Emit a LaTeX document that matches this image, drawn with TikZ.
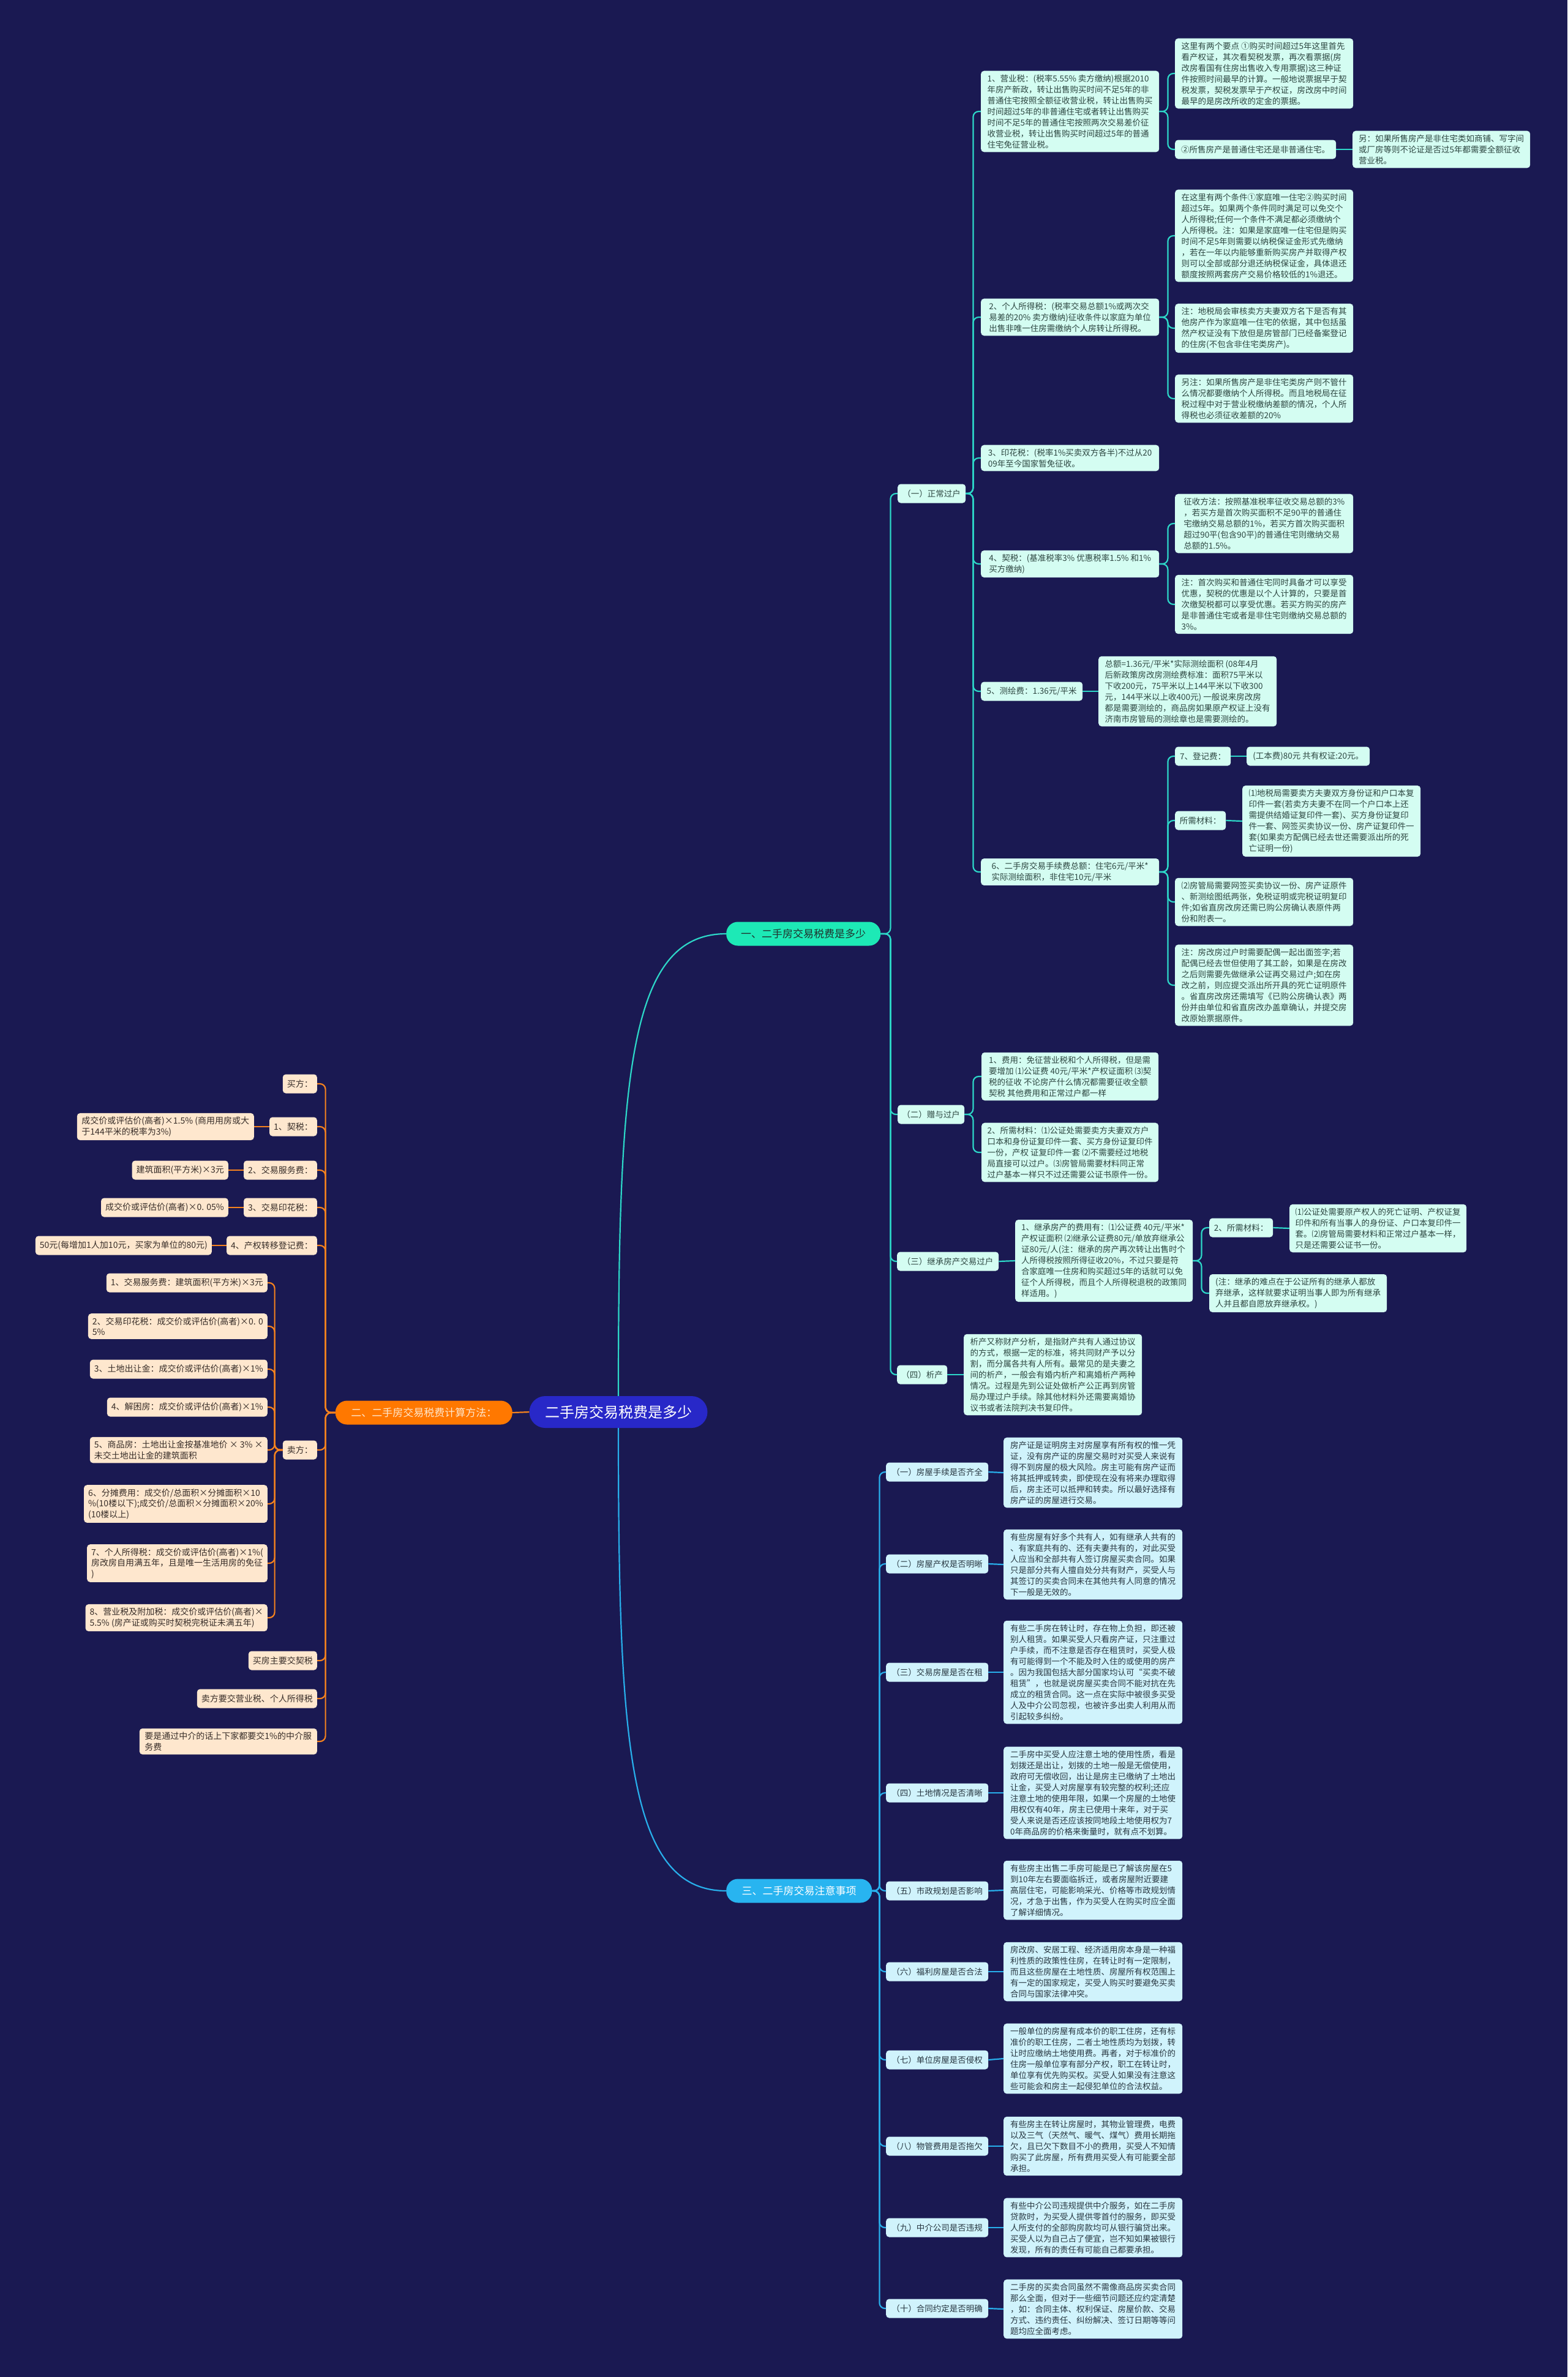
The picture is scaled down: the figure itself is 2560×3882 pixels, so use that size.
\documentclass[tikz,border=0pt]{standalone}
\usepackage{fontspec}
\newfontfamily\cjk{Noto Sans CJK SC}
\definecolor{navy}{RGB}{26,25,82}
\definecolor{rootblue}{RGB}{40,40,200}
\definecolor{tealmain}{RGB}{29,233,182}
\definecolor{tealline}{RGB}{45,215,200}
\definecolor{mintfill}{RGB}{212,253,242}
\definecolor{minttext}{RGB}{45,70,65}
\definecolor{orangemain}{RGB}{255,120,0}
\definecolor{orangeline}{RGB}{245,130,30}
\definecolor{peachfill}{RGB}{254,231,206}
\definecolor{peachtext}{RGB}{55,45,40}
\definecolor{bluemain}{RGB}{40,180,240}
\definecolor{blueline}{RGB}{40,175,235}
\definecolor{skyfill}{RGB}{208,243,252}
\definecolor{skytext}{RGB}{40,55,65}
\tikzset{rootnode/.style={fill=rootblue,text=white,rounded corners=26pt,minimum height=52pt,
    minimum width=291pt,font=\cjk\fontsize{24}{28}\selectfont},
  mainnode/.style={rounded corners=19pt,minimum height=39pt,font=\cjk\fontsize{17}{20}\selectfont},
  mintbox/.style={fill=mintfill,text=minttext,rounded corners=5pt,align=left,inner xsep=6pt,
    inner ysep=6pt,minimum height=31pt,font=\cjk\fontsize{13.5}{18}\selectfont},
  peachbox/.style={fill=peachfill,text=peachtext,rounded corners=5pt,align=left,inner xsep=7pt,
    inner ysep=6pt,minimum height=31pt,font=\cjk\fontsize{14}{17.5}\selectfont},
  skybox/.style={fill=skyfill,text=skytext,rounded corners=5pt,align=left,inner xsep=6pt,
    inner ysep=6pt,minimum height=31pt,font=\cjk\fontsize{13.5}{18}\selectfont},
  tealedge/.style={draw=tealline,line width=2.2pt,rounded corners=9pt},
  orangeedge/.style={draw=orangeline,line width=2.2pt,rounded corners=9pt},
  blueedge/.style={draw=blueline,line width=2.2pt,rounded corners=9pt}}
\begin{document}
\begin{tikzpicture}[x=1pt,y=-1pt]
\useasboundingbox (0,0) rectangle (2560,3882);
\fill[navy] (0,0) rectangle (2560,3882);

\node[rootnode] (root) at (1010,2306) {二手房交易税费是多少};

% 一、税费
\node[mainnode,fill=tealmain,text=minttext!70!black,minimum width=252pt,anchor=west] (sec1) at (1186,1525) {一、二手房交易税费是多少};
\node[mintbox,anchor=west,minimum width=111pt] (zc) at (1466,806) {（一）正常过户};
\node[mintbox,anchor=west,minimum width=291pt] (yys) at (1602,182) {1、营业税：(税率5.55\% 卖方缴纳)根据2010\\年房产新政，转让出售购买时间不足5年的非\\普通住宅按照全额征收营业税，转让出售购买\\时间超过5年的非普通住宅或者转让出售购买\\时间不足5年的普通住宅按照两次交易差价征\\收营业税，转让出售购买时间超过5年的普通\\住宅免征营业税。};
\node[mintbox,anchor=west,minimum width=291pt] (yysa) at (1919,120) {这里有两个要点 ①购买时间超过5年这里首先\\看产权证，其次看契税发票，再次看票据(房\\改房看国有住房出售收入专用票据)这三种证\\件按照时间最早的计算。一般地说票据早于契\\税发票，契税发票早于产权证，房改房中时间\\最早的是房改所收的定金的票据。};
\node[mintbox,anchor=west,minimum width=263pt] (yysb) at (1919,244) {②所售房产是普通住宅还是非普通住宅。};
\node[mintbox,anchor=west,minimum width=290pt] (yysc) at (2209,244) {另：如果所售房产是非住宅类如商铺、写字间\\或厂房等则不论证是否过5年都需要全额征收\\营业税。};
\node[mintbox,anchor=west,minimum width=291pt] (gs) at (1602,518) {2、个人所得税：(税率交易总额1\%或两次交\\易差的20\% 卖方缴纳)征收条件以家庭为单位\\出售非唯一住房需缴纳个人房转让所得税。};
\node[mintbox,anchor=west,minimum width=291pt] (gsa) at (1919,385) {在这里有两个条件①家庭唯一住宅②购买时间\\超过5年。如果两个条件同时满足可以免交个\\人所得税;任何一个条件不满足都必须缴纳个\\人所得税。注：如果是家庭唯一住宅但是购买\\时间不足5年则需要以纳税保证金形式先缴纳\\，若在一年以内能够重新购买房产并取得产权\\则可以全部或部分退还纳税保证金，具体退还\\额度按照两套房产交易价格较低的1\%退还。};
\node[mintbox,anchor=west,minimum width=291pt] (gsb) at (1919,536) {注：地税局会审核卖方夫妻双方名下是否有其\\他房产作为家庭唯一住宅的依据，其中包括虽\\然产权证没有下放但是房管部门已经备案登记\\的住房(不包含非住宅类房产)。};
\node[mintbox,anchor=west,minimum width=291pt] (gsc) at (1919,651) {另注：如果所售房产是非住宅类房产则不管什\\么情况都要缴纳个人所得税。而且地税局在征\\税过程中对于营业税缴纳差额的情况，个人所\\得税也必须征收差额的20\%};
\node[mintbox,anchor=west,minimum width=291pt] (yhs) at (1602,748) {3、印花税：(税率1\%买卖双方各半)不过从20\\09年至今国家暂免征收。};
\node[mintbox,anchor=west,minimum width=291pt] (qs) at (1602,921) {4、契税：(基准税率3\% 优惠税率1.5\% 和1\%\\ 买方缴纳)};
\node[mintbox,anchor=west,minimum width=291pt] (qsa) at (1919,855) {征收方法：按照基准税率征收交易总额的3\%\\，若买方是首次购买面积不足90平的普通住\\宅缴纳交易总额的1\%，若买方首次购买面积\\超过90平(包含90平)的普通住宅则缴纳交易\\总额的1.5\%。};
\node[mintbox,anchor=west,minimum width=291pt] (qsb) at (1919,987) {注：首次购买和普通住宅同时具备才可以享受\\优惠，契税的优惠是以个人计算的，只要是首\\次缴契税都可以享受优惠。若买方购买的房产\\是非普通住宅或者是非住宅则缴纳交易总额的\\3\%。};
\node[mintbox,anchor=west,minimum width=166pt] (ch) at (1602,1129) {5、测绘费：1.36元/平米};
\node[mintbox,anchor=west,minimum width=291pt] (cha) at (1794,1129) {总额=1.36元/平米*实际测绘面积 (08年4月\\后新政策房改房测绘费标准：面积75平米以\\下收200元，75平米以上144平米以下收300\\元，144平米以上收400元) 一般说来房改房\\都是需要测绘的，商品房如果原产权证上没有\\济南市房管局的测绘章也是需要测绘的。};
\node[mintbox,anchor=west,minimum width=291pt] (sx) at (1602,1424) {6、二手房交易手续费总额：住宅6元/平米*\\实际测绘面积，非住宅10元/平米};
\node[mintbox,anchor=west,minimum width=91pt] (djf) at (1919,1235) {7、登记费：};
\node[mintbox,anchor=west,minimum width=201pt] (djfa) at (2036,1235) {(工本费)80元 共有权证:20元。};
\node[mintbox,anchor=west,minimum width=83pt] (cl) at (1919,1340) {所需材料：};
\node[mintbox,anchor=west,minimum width=291pt] (cla) at (2029,1341) {⑴地税局需要卖方夫妻双方身份证和户口本复\\印件一套(若卖方夫妻不在同一个户口本上还\\需提供结婚证复印件一套)、买方身份证复印\\件一套、网签买卖协议一份、房产证复印件一\\套(如果卖方配偶已经去世还需要派出所的死\\亡证明一份)};
\node[mintbox,anchor=west,minimum width=291pt] (fgj) at (1919,1473) {⑵房管局需要网签买卖协议一份、房产证原件\\、新测绘图纸两张，免税证明或完税证明复印\\件;如省直房改房还需已购公房确认表原件两\\份和附表一。};
\node[mintbox,anchor=west,minimum width=291pt] (fgz) at (1919,1609) {注：房改房过户时需要配偶一起出面签字;若\\配偶已经去世但使用了其工龄，如果是在房改\\之后则需要先做继承公证再交易过户;如在房\\改之前，则应提交派出所开具的死亡证明原件\\。省直房改房还需填写《已购公房确认表》两\\份并由单位和省直房改办盖章确认，并提交房\\改原始票据原件。};
\node[mintbox,anchor=west,minimum width=109pt] (zy) at (1466,1820) {（二）赠与过户};
\node[mintbox,anchor=west,minimum width=289pt] (zya) at (1603,1758) {1、费用：免征营业税和个人所得税，但是需\\要增加 ⑴公证费 40元/平米*产权证面积 ⑶契\\税的征收 不论房产什么情况都需要征收全额\\契税 其他费用和正常过户都一样};
\node[mintbox,anchor=west,minimum width=289pt] (zyb) at (1603,1882) {2、所需材料：⑴公证处需要卖方夫妻双方户\\口本和身份证复印件一套、买方身份证复印件\\一份，产权 证复印件一套 ⑵不需要经过地税\\局直接可以过户。⑶房管局需要材料同正常\\过户基本一样只不过还需要公证书原件一份。};
\node[mintbox,anchor=west,minimum width=166pt] (jc) at (1465,2060) {（三）继承房产交易过户};
\node[mintbox,anchor=west,minimum width=290pt] (jca) at (1658,2059) {1、继承房产的费用有：⑴公证费 40元/平米*\\产权证面积 ⑵继承公证费80元/单放弃继承公\\证80元/人(注：继承的房产再次转让出售时个\\人所得税按照所得征收20\%，不过只要是符\\合家庭唯一住房和购买超过5年的话就可以免\\征个人所得税，而且个人所得税退税的政策同\\样适用。)};
\node[mintbox,anchor=west,minimum width=104pt] (jcb) at (1975,2005) {2、所需材料：};
\node[mintbox,anchor=west,minimum width=289pt] (jcc) at (2106,2006) {⑴公证处需要原产权人的死亡证明、产权证复\\印件和所有当事人的身份证、户口本复印件一\\套。⑵房管局需要材料和正常过户基本一样，\\只是还需要公证书一份。};
\node[mintbox,anchor=west,minimum width=290pt] (jcd) at (1975,2112) {(注：继承的难点在于公证所有的继承人都放\\弃继承，这样就要求证明当事人即为所有继承\\人并且都自愿放弃继承权。)};
\node[mintbox,anchor=west,minimum width=82pt] (xc) at (1465,2245) {（四）析产};
\node[mintbox,anchor=west,minimum width=291pt] (xca) at (1574,2245) {析产又称财产分析，是指财产共有人通过协议\\的方式，根据一定的标准，将共同财产予以分\\割，而分属各共有人所有。最常见的是夫妻之\\间的析产，一般会有婚内析产和离婚析产两种\\情况。过程是先到公证处做析产公正再到房管\\局办理过户手续。除其他材料外还需要离婚协\\议书或者法院判决书复印件。};

% 二、计算方法
\node[mainnode,fill=orangemain,text=peachfill,minimum width=289pt,anchor=east] (sec2) at (837,2307) {二、二手房交易税费计算方法：};
\node[peachbox,anchor=east,minimum width=55pt] (buyer) at (518,1770) {买方：};
\node[peachbox,anchor=east,minimum width=77pt] (bqs) at (518,1840) {1、契税：};
\node[peachbox,anchor=east,minimum width=289pt] (bqsv) at (415,1840) {成交价或评估价(高者)×1.5\% (商用用房或大\\于144平米的税率为3\%)};
\node[peachbox,anchor=east,minimum width=118pt] (bfw) at (518,1911) {2、交易服务费：};
\node[peachbox,anchor=east,minimum width=151pt] (bfwv) at (373,1911) {建筑面积(平方米)×3元};
\node[peachbox,anchor=east,minimum width=118pt] (byh) at (518,1972) {3、交易印花税：};
\node[peachbox,anchor=east,minimum width=200pt] (byhv) at (373,1972) {成交价或评估价(高者)×0. 05\%};
\node[peachbox,anchor=east,minimum width=146pt] (bcq) at (518,2034) {4、产权转移登记费：};
\node[peachbox,anchor=east,minimum width=287pt] (bcqv) at (346,2034) {50元(每增加1人加10元，买家为单位的80元)};
\node[peachbox,anchor=east,minimum width=55pt] (seller) at (518,2368) {卖方：};
\node[peachbox,anchor=east,minimum width=256pt] (s1) at (437,2095) {1、交易服务费：建筑面积(平方米)×3元};
\node[peachbox,anchor=east,minimum width=290pt] (s2) at (437,2166) {2、交易印花税：成交价或评估价(高者)×0. 0\\5\%};
\node[peachbox,anchor=east,minimum width=283pt] (s3) at (437,2236) {3、土地出让金：成交价或评估价(高者)×1\%};
\node[peachbox,anchor=east,minimum width=254pt] (s4) at (437,2298) {4、解困房：成交价或评估价(高者)×1\%};
\node[peachbox,anchor=east,minimum width=290pt] (s5) at (437,2368) {5、商品房：土地出让金按基准地价 × 3\% ×\\未交土地出让金的建筑面积};
\node[peachbox,anchor=east,minimum width=290pt] (s6) at (437,2456) {6、分摊费用：成交价/总面积×分摊面积×10\\\%(10楼以下);成交价/总面积×分摊面积×20\%\\(10楼以上)};
\node[peachbox,anchor=east,minimum width=290pt] (s7) at (437,2553) {7、个人所得税：成交价或评估价(高者)×1\%(\\房改房自用满五年，且是唯一生活用房的免征\\)};
\node[peachbox,anchor=east,minimum width=290pt] (s8) at (437,2642) {8、营业税及附加税：成交价或评估价(高者)×\\5.5\% (房产证或购买时契税完税证未满五年)};
\node[peachbox,anchor=east,minimum width=111pt] (m1) at (518,2712) {买房主要交契税};
\node[peachbox,anchor=east,minimum width=193pt] (m2) at (518,2774) {卖方要交营业税、个人所得税};
\node[peachbox,anchor=east,minimum width=290pt] (m3) at (518,2844) {要是通过中介的话上下家都要交1\%的中介服\\务费};

% 三、注意事项
\node[mainnode,fill=bluemain,text=white,minimum width=238pt,anchor=west] (sec3) at (1186,3088) {三、二手房交易注意事项};
\node[skybox,anchor=west,minimum width=167pt] (z1) at (1447,2404) {（一）房屋手续是否齐全};
\node[skybox,anchor=west,minimum width=292pt] (zt1) at (1639,2405) {房产证是证明房主对房屋享有所有权的惟一凭\\证，没有房产证的房屋交易时对买受人来说有\\得不到房屋的极大风险。房主可能有房产证而\\将其抵押或转卖，即使现在没有将来办理取得\\后，房主还可以抵押和转卖。所以最好选择有\\房产证的房屋进行交易。};
\node[skybox,anchor=west,minimum width=167pt] (z2) at (1447,2554) {（二）房屋产权是否明晰};
\node[skybox,anchor=west,minimum width=292pt] (zt2) at (1639,2555) {有些房屋有好多个共有人，如有继承人共有的\\、有家庭共有的、还有夫妻共有的，对此买受\\人应当和全部共有人签订房屋买卖合同。如果\\只是部分共有人擅自处分共有财产，买受人与\\其签订的买卖合同未在其他共有人同意的情况\\下一般是无效的。};
\node[skybox,anchor=west,minimum width=167pt] (z3) at (1447,2731) {（三）交易房屋是否在租};
\node[skybox,anchor=west,minimum width=292pt] (zt3) at (1639,2731) {有些二手房在转让时，存在物上负担，即还被\\别人租赁。如果买受人只看房产证，只注重过\\户手续，而不注意是否存在租赁时，买受人极\\有可能得到一个不能及时入住的或使用的房产\\。因为我国包括大部分国家均认可“买卖不破\\租赁”，也就是说房屋买卖合同不能对抗在先\\成立的租赁合同。这一点在实际中被很多买受\\人及中介公司忽视，也被许多出卖人利用从而\\引起较多纠纷。};
\node[skybox,anchor=west,minimum width=167pt] (z4) at (1447,2928) {（四）土地情况是否清晰};
\node[skybox,anchor=west,minimum width=292pt] (zt4) at (1639,2928) {二手房中买受人应注意土地的使用性质，看是\\划拨还是出让，划拨的土地一般是无偿使用，\\政府可无偿收回，出让是房主已缴纳了土地出\\让金，买受人对房屋享有较完整的权利;还应\\注意土地的使用年限，如果一个房屋的土地使\\用权仅有40年，房主已使用十来年，对于买\\受人来说是否还应该按同地段土地使用权为7\\0年商品房的价格来衡量时，就有点不划算。};
\node[skybox,anchor=west,minimum width=167pt] (z5) at (1447,3088) {（五）市政规划是否影响};
\node[skybox,anchor=west,minimum width=292pt] (zt5) at (1639,3087) {有些房主出售二手房可能是已了解该房屋在5\\到10年左右要面临拆迁，或者房屋附近要建\\高层住宅，可能影响采光、价格等市政规划情\\况，才急于出售，作为买受人在购买时应全面\\了解详细情况。};
\node[skybox,anchor=west,minimum width=167pt] (z6) at (1447,3220) {（六）福利房屋是否合法};
\node[skybox,anchor=west,minimum width=292pt] (zt6) at (1639,3220) {房改房、安居工程、经济适用房本身是一种福\\利性质的政策性住房，在转让时有一定限制，\\而且这些房屋在土地性质、房屋所有权范围上\\有一定的国家规定，买受人购买时要避免买卖\\合同与国家法律冲突。};
\node[skybox,anchor=west,minimum width=167pt] (z7) at (1447,3364) {（七）单位房屋是否侵权};
\node[skybox,anchor=west,minimum width=292pt] (zt7) at (1639,3362) {一般单位的房屋有成本价的职工住房，还有标\\准价的职工住房，二者土地性质均为划拨，转\\让时应缴纳土地使用费。再者，对于标准价的\\住房一般单位享有部分产权，职工在转让时，\\单位享有优先购买权。买受人如果没有注意这\\些可能会和房主一起侵犯单位的合法权益。};
\node[skybox,anchor=west,minimum width=167pt] (z8) at (1447,3505) {（八）物管费用是否拖欠};
\node[skybox,anchor=west,minimum width=292pt] (zt8) at (1639,3505) {有些房主在转让房屋时，其物业管理费，电费\\以及三气（天然气、暖气、煤气）费用长期拖\\欠，且已欠下数目不小的费用，买受人不知情\\购买了此房屋，所有费用买受人有可能要全部\\承担。};
\node[skybox,anchor=west,minimum width=167pt] (z9) at (1447,3638) {（九）中介公司是否违规};
\node[skybox,anchor=west,minimum width=292pt] (zt9) at (1639,3638) {有些中介公司违规提供中介服务，如在二手房\\贷款时，为买受人提供零首付的服务，即买受\\人所支付的全部购房款均可从银行骗贷出来。\\买受人以为自己占了便宜，岂不知如果被银行\\发现，所有的责任有可能自己都要承担。};
\node[skybox,anchor=west,minimum width=167pt] (z10) at (1447,3770) {（十）合同约定是否明确};
\node[skybox,anchor=west,minimum width=292pt] (zt10) at (1639,3771) {二手房的买卖合同虽然不需像商品房买卖合同\\那么全面，但对于一些细节问题还应约定清楚\\，如：合同主体、权利保证、房屋价款、交易\\方式、违约责任、纠纷解决、签订日期等等问\\题均应全面考虑。};

% connectors
\draw[tealedge] (root.north) .. controls +(0,-520) and +(-160,0) .. (sec1.west);
\draw[orangeedge] (root.west) -- (sec2.east);
\draw[blueedge] (root.south) .. controls +(0,520) and +(-160,0) .. (sec3.west);

\foreach \c in {zc,zy,jc,xc} \draw[tealedge] (sec1.east) -- ++(16,0) |- (\c.west);
\foreach \c in {yys,gs,yhs,qs,ch,sx} \draw[tealedge] (zc.east) -- ++(12,0) |- (\c.west);
\foreach \c in {yysa,yysb} \draw[tealedge] (yys.east) -- ++(14,0) |- (\c.west);
\foreach \c in {gsa,gsb,gsc} \draw[tealedge] (gs.east) -- ++(14,0) |- (\c.west);
\foreach \c in {qsa,qsb} \draw[tealedge] (qs.east) -- ++(14,0) |- (\c.west);
\foreach \c in {djf,cl,fgj,fgz} \draw[tealedge] (sx.east) -- ++(14,0) |- (\c.west);
\foreach \c in {zya,zyb} \draw[tealedge] (zy.east) -- ++(14,0) |- (\c.west);
\foreach \c in {jcb,jcd} \draw[tealedge] (jca.east) -- ++(14,0) |- (\c.west);
\foreach \a/\b in {yysb/yysc,ch/cha,djf/djfa,cl/cla,jc/jca,jcb/jcc,xc/xca}
  \draw[tealedge] (\a.east) -- (\b.west);

\foreach \c in {buyer,bqs,bfw,byh,bcq,seller,m1,m2,m3} \draw[orangeedge] (sec2.west) -- ++(-16,0) |- (\c.east);
\foreach \i in {1,...,8} \draw[orangeedge] (seller.west) -- ++(-13,0) |- (s\i.east);
\foreach \a/\b in {bqs/bqsv,bfw/bfwv,byh/byhv,bcq/bcqv} \draw[orangeedge] (\a.west) -- (\b.east);

\foreach \i in {1,...,10}{
  \draw[blueedge] (sec3.east) -- ++(12,0) |- (z\i.west);
  \draw[blueedge] (z\i.east) -- (zt\i.west);
}
\end{tikzpicture}
\end{document}
